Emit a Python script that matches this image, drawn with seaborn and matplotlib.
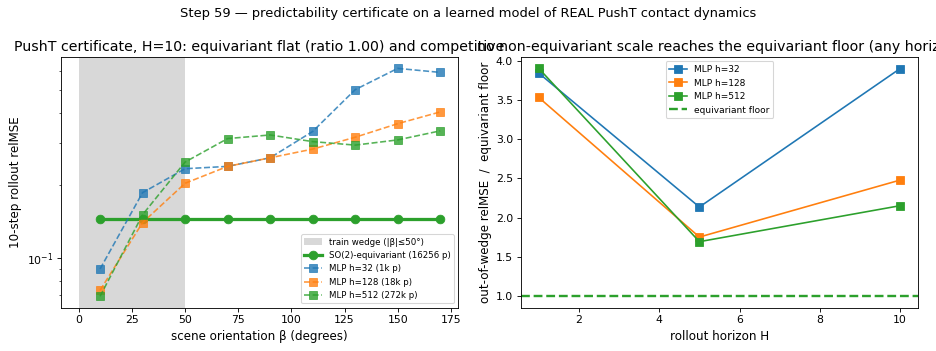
import numpy as np
import pandas as pd
import matplotlib
matplotlib.use('Agg')
import matplotlib.pyplot as plt
import seaborn as sns

### data
beta = [10, 30, 50, 70, 90, 110, 130, 150, 170]
equiv = [0.1446] * 9
mlp32 = [0.0898, 0.1865, 0.2345, 0.2398, 0.2604, 0.335, 0.500, 0.613, 0.590]
mlp128 = [0.0732, 0.140, 0.204, 0.2398, 0.2604, 0.283, 0.317, 0.361, 0.404]
mlp512 = [0.0691, 0.151, 0.250, 0.313, 0.324, 0.304, 0.294, 0.309, 0.337]

horizon = [1, 5, 10]
ratio32 = [3.84, 2.136, 3.898]
ratio128 = [3.53, 1.754, 2.479]
ratio512 = [3.90, 1.695, 2.153]

colors = {'32': '#1f77b4', '128': '#ff7f0e', '512': '#2ca02c'}

#%% figure
plt.rcParams['axes.labelsize'] = 11
fig, axes = plt.subplots(1, 2, figsize=(12, 4.5), dpi=78)
fig.subplots_adjust(left=0.0649, right=0.981, bottom=0.1234, top=0.8376, wspace=0.157)
fig.suptitle('Step 59 \u2014 predictability certificate on a learned model of REAL PushT contact dynamics',
             fontsize=12)

## left: orientation sweep
ax = axes[0]
ax.axvspan(0, 50, color='gray', alpha=0.3, lw=0, label='train wedge (|\u03b2|\u226450\u00b0)')
df = pd.DataFrame({'beta': beta, 'equiv': equiv, 'mlp32': mlp32,
                   'mlp128': mlp128, 'mlp512': mlp512})
sns.lineplot(data=df, x='beta', y='equiv', ax=ax, color=colors['512'], marker='o',
             lw=3, markersize=8, mec=colors['512'], label='SO(2)-equivariant (16256 p)')
for h, p in [('32', '1k'), ('128', '18k'), ('512', '272k')]:
    sns.lineplot(data=df, x='beta', y='mlp' + h, ax=ax, color=colors[h], marker='s',
                 linestyle='--', lw=1.5, markersize=6.5, alpha=0.8, mec=colors[h],
                 label='MLP h={} ({} p)'.format(h, p))
ax.set_yscale('log')
ax.set_xticks(np.arange(0, 176, 25))
ax.set_xlabel('scene orientation \u03b2 (degrees)')
ax.set_ylabel('10-step rollout relMSE')
ax.set_title('PushT certificate, H=10: equivariant flat (ratio 1.00) and competitive', fontsize=13)
ax.legend(loc='lower right', fontsize=8)

## right: ratio vs horizon
ax = axes[1]
df2 = pd.DataFrame({'H': horizon, 'r32': ratio32, 'r128': ratio128, 'r512': ratio512})
for h in ['32', '128', '512']:
    sns.lineplot(data=df2, x='H', y='r' + h, ax=ax, color=colors[h], marker='s',
                 lw=1.5, markersize=7, mec=colors[h], label='MLP h={}'.format(h))
ax.axhline(1.0, color=colors['512'], linestyle='--', lw=2.2, label='equivariant floor')
ax.set_xlabel('rollout horizon H')
ax.set_ylabel('out-of-wedge relMSE  /  equivariant floor')
ax.set_title('no non-equivariant scale reaches the equivariant floor (any horizon)', fontsize=13)
ax.legend(loc='upper center', fontsize=8.3)

fig.savefig('out.png', dpi=78)
